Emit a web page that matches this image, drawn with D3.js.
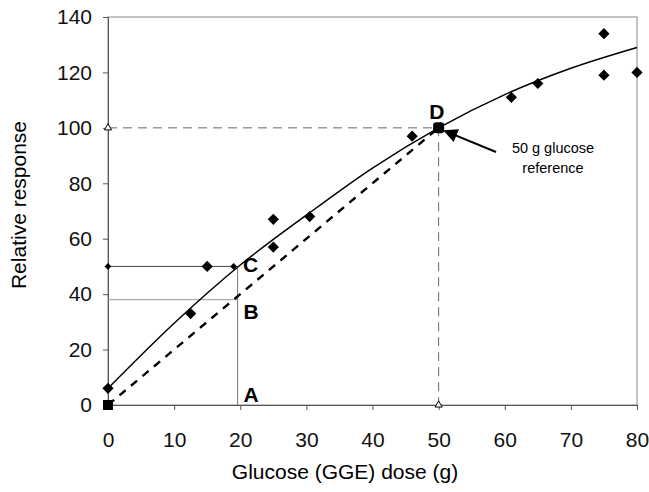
<!DOCTYPE html>
<html>
<head>
<meta charset="utf-8">
<script src="https://cdn.jsdelivr.net/npm/d3@7"></script>
<style>
  body { margin: 0; background: #fff; }
  text { font-family: Arial, "Liberation Sans", sans-serif; }
</style>
</head>
<body>
<div id="chart"></div>
<script>
// measured doses and responses
const doseX = [0, 12.5, 15, 25, 25, 30.5, 46, 61, 65, 75, 75, 80];
const respY = [6, 33, 50, 67, 57, 68, 97, 111, 116, 134, 119, 120];

// fitted curve
const fitX = [0, 10, 20, 30, 40, 50, 60, 70, 80];
const fitY = [6, 29.5, 50.5, 68.5, 85.5, 100, 112, 121.5, 129];

const xTicks = [0, 10, 20, 30, 40, 50, 60, 70, 80];
const yTicks = [0, 20, 40, 60, 80, 100, 120, 140];

const width = 649, height = 492;
const margin = { left: 108, right: 12, top: 17, bottom: 87 };

const svg = d3.select("#chart").append("svg")
    .attr("width", width)
    .attr("height", height);

const x = d3.scaleLinear().domain([0, 80]).range([margin.left, width - margin.right]);
const y = d3.scaleLinear().domain([0, 140]).range([height - margin.bottom, margin.top]);

// frame
svg.append("rect")
    .attr("x", x(0)).attr("y", y(140))
    .attr("width", x(80) - x(0)).attr("height", y(0) - y(140))
    .attr("fill", "none").attr("stroke", "#888").attr("stroke-width", 1);

// axes
const xAxis = svg.append("g")
    .attr("transform", `translate(0,${y(0)})`)
    .call(d3.axisBottom(x).tickValues(xTicks).tickSize(5).tickPadding(22));
const yAxis = svg.append("g")
    .attr("transform", `translate(${x(0)},0)`)
    .call(d3.axisLeft(y).tickValues(yTicks).tickSize(5).tickPadding(11));
[xAxis, yAxis].forEach(g => {
    g.select(".domain").attr("stroke", "#555");
    g.selectAll(".tick line").attr("stroke", "#555");
    g.selectAll(".tick text").attr("font-size", 21).attr("fill", "#111")
        .style("font-family", "Arial, 'Liberation Sans', sans-serif");
});

// reference guides to D
svg.append("path")
    .attr("d", d3.line()([[x(0), y(100)], [x(50), y(100)], [x(50), y(0)]]))
    .attr("fill", "none").attr("stroke", "#666").attr("stroke-width", 1)
    .attr("stroke-dasharray", "9,6");

// guides for B and C
svg.append("path")
    .attr("d", d3.line()([[x(0), y(38)], [x(19.6), y(38)]]))
    .attr("stroke", "#999").attr("stroke-width", 1);
svg.append("path")
    .attr("d", d3.line()([[x(19.6), y(0)], [x(19.6), y(50)]]))
    .attr("stroke", "#777").attr("stroke-width", 1);
svg.append("path")
    .attr("d", d3.line()([[x(0), y(50)], [x(19), y(50)]]))
    .attr("stroke", "#444").attr("stroke-width", 1);

// straight line 0 -> D
svg.append("path")
    .attr("d", d3.line()([[x(0), y(0)], [x(50), y(100)]]))
    .attr("fill", "none").attr("stroke", "#000").attr("stroke-width", 2.4)
    .attr("stroke-dasharray", "8,7");

// fitted curve
svg.append("path")
    .datum(fitX.map((d, i) => [d, fitY[i]]))
    .attr("d", d3.line().x(d => x(d[0])).y(d => y(d[1])).curve(d3.curveMonotoneX))
    .attr("fill", "none").attr("stroke", "#000").attr("stroke-width", 1.5);

// data diamonds
const diamond = d3.symbol().type(d3.symbolDiamond2).size(80);
svg.append("g").selectAll("path")
    .data(doseX.map((d, i) => [d, respY[i]]))
    .join("path")
    .attr("transform", d => `translate(${x(d[0])},${y(d[1])})`)
    .attr("d", diamond)
    .attr("fill", "#000");

// small diamonds at ends of C guide
svg.append("g").selectAll("path")
    .data([[0, 50], [19, 50]])
    .join("path")
    .attr("transform", d => `translate(${x(d[0])},${y(d[1])})`)
    .attr("d", d3.symbol().type(d3.symbolDiamond2).size(30))
    .attr("fill", "#000");

// open triangles on axes
svg.append("g").selectAll("path")
    .data([[0, 100], [50, 0]])
    .join("path")
    .attr("transform", d => `translate(${x(d[0])},${y(d[1])})`)
    .attr("d", d3.symbol().type(d3.symbolTriangle).size(22))
    .attr("fill", "#fff").attr("stroke", "#000").attr("stroke-width", 1);

// origin square and D point
svg.append("rect")
    .attr("x", x(0) - 5).attr("y", y(0) - 5).attr("width", 10).attr("height", 10)
    .attr("fill", "#000");
svg.append("rect")
    .attr("x", x(50) - 5.5).attr("y", y(100) - 5.5).attr("width", 11).attr("height", 11)
    .attr("rx", 3).attr("fill", "#000");

// point letters
const letters = [["A", 20.5, 0], ["B", 20.5, 30], ["C", 20.4, 47], ["D", 48.6, 102]];
svg.append("g").selectAll("text")
    .data(letters)
    .join("text")
    .attr("x", d => x(d[1]))
    .attr("y", d => y(d[2]) - 3)
    .attr("font-size", 21).attr("font-weight", "bold")
    .text(d => d[0]);

// arrow to D
svg.append("defs").append("marker")
    .attr("id", "head").attr("viewBox", "0 0 10 10")
    .attr("refX", 9).attr("refY", 5)
    .attr("markerWidth", 8).attr("markerHeight", 7)
    .attr("orient", "auto")
    .append("path").attr("d", "M0,0L10,5L0,10Z").attr("fill", "#000");
svg.append("line")
    .attr("x1", 496).attr("y1", 152).attr("x2", x(50) + 6).attr("y2", y(100) + 3)
    .attr("stroke", "#000").attr("stroke-width", 2)
    .attr("marker-end", "url(#head)");

svg.append("text").attr("x", 553).attr("y", 153).attr("text-anchor", "middle")
    .attr("font-size", 14.5).text("50 g glucose");
svg.append("text").attr("x", 553).attr("y", 173).attr("text-anchor", "middle")
    .attr("font-size", 14.5).text("reference");

// axis titles
svg.append("text")
    .attr("x", 345).attr("y", 479)
    .attr("text-anchor", "middle").attr("font-size", 21)
    .text("Glucose (GGE) dose (g)");
svg.append("text")
    .attr("transform", "translate(26,205) rotate(-90)")
    .attr("text-anchor", "middle").attr("font-size", 21)
    .text("Relative response");
</script>
</body>
</html>
